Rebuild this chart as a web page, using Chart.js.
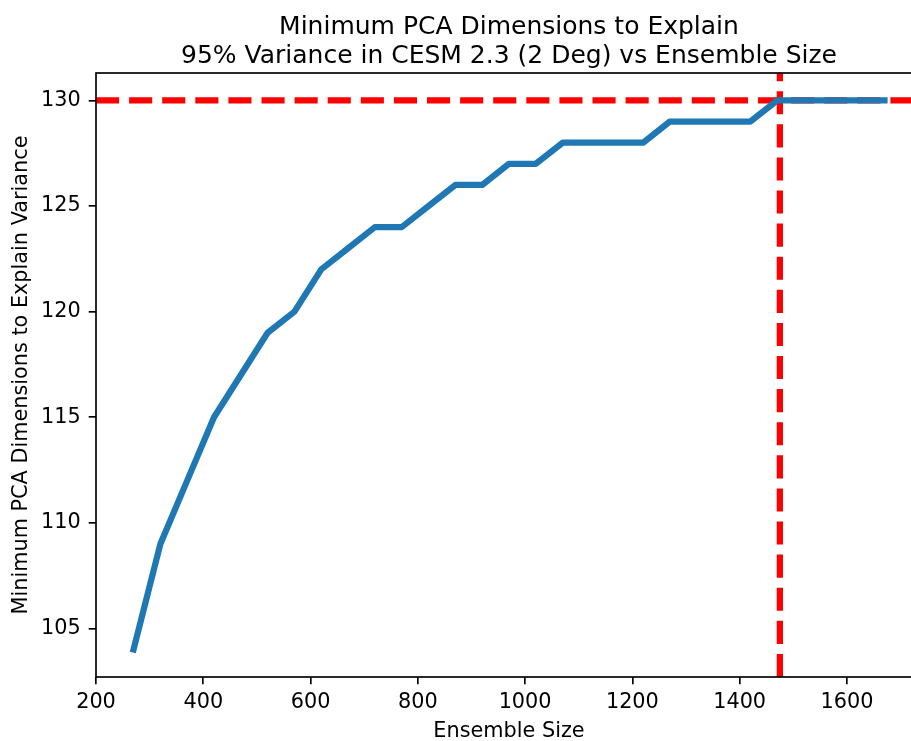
<!DOCTYPE html>
<html>
<head>
<meta charset="utf-8">
<script src="https://cdn.jsdelivr.net/npm/chart.js@4/dist/chart.umd.min.js"></script>
<style>
  html, body { margin: 0; padding: 0; background: #fff; overflow: hidden; }
  #wrap { position: absolute; left: 0; top: 0; width: 930px; height: 741px; }
</style>
</head>
<body>
<div id="wrap"><canvas id="c" width="930" height="741"></canvas></div>
<script>
// ---- data ----
const ensembleSizes = [270, 320, 370, 420, 470, 520, 570, 620, 670, 720, 770, 820, 870, 920, 970,
                       1020, 1070, 1120, 1170, 1220, 1270, 1320, 1370, 1420, 1470, 1520, 1570, 1620, 1670];
const minDims = [104, 109, 112, 115, 117, 119, 120, 122, 123, 124, 124, 125, 126, 126, 127,
                 127, 128, 128, 128, 128, 129, 129, 129, 129, 130, 130, 130, 130, 130];
const thresholdDims = 130;      // horizontal dashed line
const cutoffSize = 1475;        // vertical dashed line
const xTickValues = [200, 400, 600, 800, 1000, 1200, 1400, 1600];
const yTickValues = [105, 110, 115, 120, 125, 130];
const titleLines = ['Minimum PCA Dimensions to Explain', '95% Variance in CESM 2.3 (2 Deg) vs Ensemble Size'];
const xLabel = 'Ensemble Size';
const yLabel = 'Minimum PCA Dimensions to Explain Variance';

// axis limits (matplotlib auto margins)
const xMin = 200, xMax = 1740;
const yMin = 102.7, yMax = 131.3;

const FONT = 'DejaVu Sans';
const LABEL_SIZE = 20.8;
const TITLE_SIZE = 25;

const curve = ensembleSizes.map((s, i) => ({ x: s, y: minDims[i] }));
const hLine = [{ x: xMin, y: thresholdDims }, { x: xMax, y: thresholdDims }];
const vLine = [{ x: cutoffSize, y: yMin }, { x: cutoffSize, y: yMax }];

const spines = {
  id: 'spines',
  afterDatasetsDraw(chart) {
    const { ctx, chartArea: a } = chart;
    ctx.save();
    ctx.strokeStyle = '#000';
    ctx.lineWidth = 1.67;
    ctx.lineJoin = 'miter';
    ctx.strokeRect(a.left, a.top, a.right - a.left, a.bottom - a.top);
    ctx.restore();
  }
};

new Chart(document.getElementById('c'), {
  type: 'line',
  data: {
    datasets: [
      {
        data: curve,
        borderColor: '#1f77b4',
        borderWidth: 6.25,
        borderCapStyle: 'square',
        borderJoinStyle: 'round',
        pointRadius: 0,
        tension: 0,
        fill: false,
        clip: 0,
        order: 0
      },
      {
        data: hLine,
        borderColor: '#ff0000',
        borderWidth: 6.25,
        borderDash: [23.1, 10],
        borderCapStyle: 'butt',
        pointRadius: 0,
        fill: false,
        clip: 0,
        order: 1
      },
      {
        data: vLine,
        borderColor: '#ff0000',
        borderWidth: 6.25,
        borderDash: [23.1, 10],
        borderCapStyle: 'butt',
        pointRadius: 0,
        fill: false,
        clip: 0,
        order: 1
      }
    ]
  },
  options: {
    responsive: false,
    animation: false,
    devicePixelRatio: 1,
    layout: { padding: { left: 0, right: 8, top: 0, bottom: 0 } },
    plugins: {
      legend: { display: false },
      tooltip: { enabled: false },
      title: {
        display: true,
        text: titleLines,
        color: '#000',
        fullSize: false,
        font: { family: FONT, size: TITLE_SIZE, weight: 'normal', lineHeight: 1.15 },
        padding: { top: 13, bottom: 2.5 }
      }
    },
    scales: {
      x: {
        type: 'linear',
        min: xMin,
        max: xMax,
        afterBuildTicks(scale) { scale.ticks = xTickValues.map(v => ({ value: v })); },
        afterFit(scale) { scale.height = 64; },
        ticks: { color: '#000', font: { family: FONT, size: LABEL_SIZE }, padding: 6, maxRotation: 0, autoSkip: false,
                 callback: v => String(v) },
        grid: { drawOnChartArea: false, drawTicks: true, tickLength: 7.3, color: '#000', lineWidth: 1.67 },
        border: { display: false },
        title: { display: true, text: xLabel, color: '#000', font: { family: FONT, size: LABEL_SIZE, lineHeight: 1.0 }, padding: { top: 0, bottom: -1 } }
      },
      y: {
        type: 'linear',
        min: yMin,
        max: yMax,
        afterBuildTicks(scale) { scale.ticks = yTickValues.map(v => ({ value: v })); },
        afterFit(scale) { scale.width = 96; },
        ticks: { color: '#000', font: { family: FONT, size: LABEL_SIZE }, padding: 8, autoSkip: false,
                 callback: v => String(v) },
        grid: { drawOnChartArea: false, drawTicks: true, tickLength: 7.3, color: '#000', lineWidth: 1.67 },
        border: { display: false },
        title: { display: true, text: yLabel, color: '#000', font: { family: FONT, size: LABEL_SIZE, lineHeight: 1.2 }, padding: { top: 9, bottom: 0 } }
      }
    }
  },
  plugins: [spines]
});
</script>
</body>
</html>
